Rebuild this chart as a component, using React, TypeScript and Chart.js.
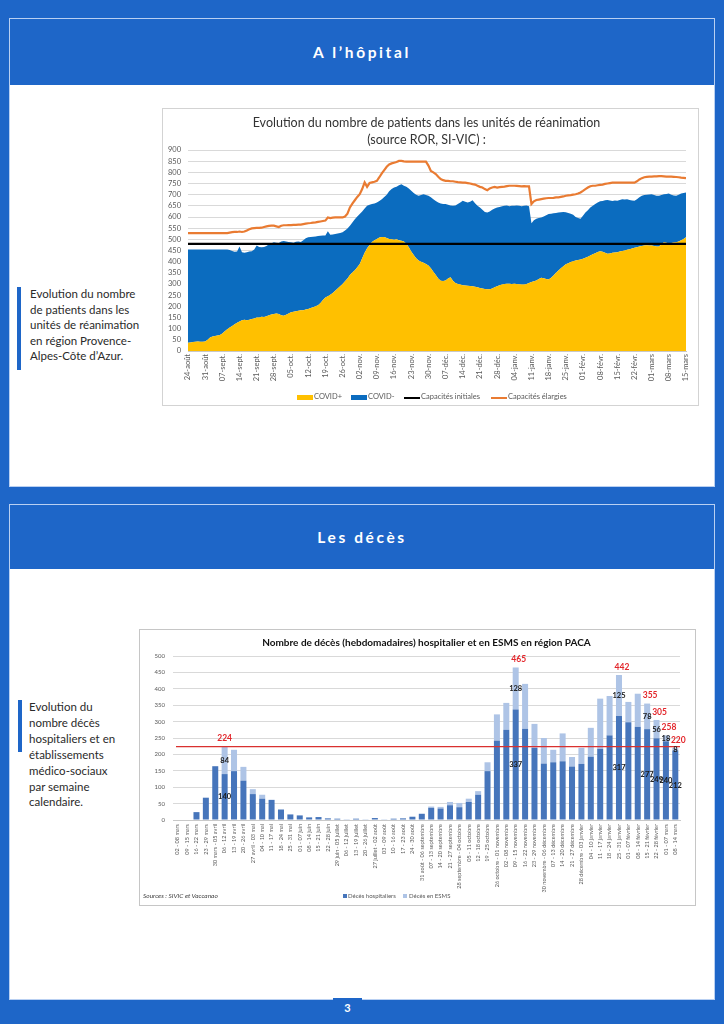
import React, { useEffect, useRef } from 'react';
import { Chart, registerables } from 'chart.js';

Chart.register(...registerables);
Chart.defaults.font.family = "Lato, 'DejaVu Sans', sans-serif";

// ---------- Chart 1 : patients en réanimation (valeurs journalières, 24 août -> 15 mars) ----------
const reaWeekLabels = [
  '24-août', '31-août', '07-sept.', '14-sept.', '21-sept.', '28-sept.', '05-oct.', '12-oct.', '19-oct.', '26-oct.',
  '02-nov.', '09-nov.', '16-nov.', '23-nov.', '30-nov.', '07-déc.', '14-déc.', '21-déc.', '28-déc.', '04-janv.',
  '11-janv.', '18-janv.', '25-janv.', '01-févr.', '08-févr.', '15-févr.', '22-févr.', '01-mars', '08-mars', '15-mars',
];

const covidPlus = [
  37, 38, 40, 41, 42, 41, 41,
  42, 50, 60, 65, 67, 69, 72,
  78, 88, 97, 105, 112, 120, 126,
  132, 138, 140, 138, 140, 143, 146,
  150, 150, 153, 152, 156, 160, 163,
  166, 168, 166, 160, 158, 162, 168,
  174, 176, 178, 180, 182, 183, 186,
  188, 192, 196, 200, 205, 215, 228,
  240, 245, 252, 260, 270, 280, 290,
  300, 312, 325, 340, 352, 362, 375,
  390, 415, 440, 460, 475, 488, 496,
  502, 508, 510, 510, 506, 502, 500,
  498, 500, 496, 494, 490, 480, 465,
  445, 430, 415, 405, 400, 395, 390,
  383, 370, 355, 340, 325, 315, 313,
  316, 325, 330, 315, 305, 300, 298,
  294, 293, 292, 291, 290, 288, 286,
  282, 280, 278, 277, 276, 280, 285,
  290, 294, 298, 300, 301, 301, 300,
  301, 300, 299, 298, 298, 300, 304,
  309, 312, 316, 322, 328, 326, 322,
  320, 328, 338, 350, 360, 370, 380,
  388, 393, 398, 402, 405, 408, 410,
  413, 418, 422, 428, 433, 438, 443,
  447, 444, 440, 435, 437, 440, 441,
  442, 445, 448, 450, 453, 456, 459,
  462, 465, 468, 470, 472, 473, 472,
  472, 470, 468, 468, 478, 487, 485,
  483, 484, 486, 487, 490, 496, 502,
  509,
];

const covidMinus = [
  418, 417, 414, 414, 413, 413, 414,
  413, 405, 395, 390, 387, 386, 383,
  377, 367, 358, 347, 336, 324, 320,
  336, 304, 300, 304, 305, 304, 309,
  322, 316, 312, 314, 314, 318, 319,
  321, 317, 318, 330, 334, 328, 320,
  313, 309, 311, 310, 306, 313, 319,
  321, 319, 316, 313, 310, 301, 289,
  277, 291, 268, 262, 254, 246, 238,
  232, 228, 223, 221, 223, 228, 227,
  223, 210, 198, 190, 180, 170, 164,
  163, 164, 170, 180, 194, 213, 225,
  234, 235, 246, 253, 250, 255, 263,
  272, 278, 285, 290, 298, 307, 308,
  312, 318, 325, 332, 340, 345, 345,
  342, 330, 322, 335, 347, 358, 367,
  379, 375, 373, 377, 385, 374, 364,
  361, 352, 344, 343, 349, 352, 353,
  353, 351, 350, 350, 351, 347, 350,
  349, 352, 351, 350, 352, 352, 344,
  263, 273, 276, 273, 270, 276, 286,
  293, 287, 279, 268, 260, 251, 242,
  233, 225, 216, 208, 195, 187, 182,
  193, 202, 208, 214, 217, 220, 222,
  223, 228, 235, 241, 237, 232, 233,
  231, 231, 232, 228, 227, 220, 215,
  211, 215, 220, 225, 226, 227, 229,
  230, 228, 227, 227, 220, 215, 218,
  222, 216, 210, 208, 210, 209, 206,
  201,
];

const capacitesElargies = [
  528, 528, 528, 528, 528, 528, 528,
  528, 528, 528, 528, 528, 528, 528,
  528, 528, 528, 530, 532, 533, 533,
  535, 533, 535, 540, 545, 549, 550,
  551, 551, 552, 555, 558, 560, 561,
  561, 558, 555, 561, 563, 563, 564,
  564, 565, 565, 566, 566, 568, 570,
  572, 573, 575, 576, 578, 580, 582,
  584, 598, 595, 597, 598, 598, 598,
  598, 602, 615, 643, 660, 675, 690,
  702, 725, 755, 735, 752, 755, 758,
  762, 778, 795, 810, 825, 835, 840,
  843, 846, 851, 851, 849, 848, 848,
  848, 848, 848, 848, 848, 848, 848,
  830, 806, 800, 792, 780, 770, 765,
  762, 762, 760, 760, 758, 756, 755,
  754, 754, 752, 750, 747, 745, 740,
  735, 732, 725, 720, 728, 732, 735,
  732, 734, 735, 736, 738, 740, 740,
  740, 739, 738, 737, 738, 737, 737,
  658, 670, 676, 678, 680, 682, 684,
  685, 685, 686, 688, 688, 690, 692,
  695, 697, 698, 700, 702, 705, 710,
  717, 725, 732, 738, 740, 740, 742,
  744, 745, 748, 750, 752, 754, 754,
  754, 754, 754, 754, 754, 754, 754,
  754, 760, 768, 774, 778, 780, 781,
  781, 782, 782, 783, 783, 782, 781,
  781, 781, 780, 779, 778, 776, 775,
  774,
];

const CAPACITES_INITIALES = 480;

// ---------- Chart 2 : décès hebdomadaires ----------
const decesWeeks = [
  '02 - 08 mars', '09 - 15 mars', '16 - 22 mars', '23 - 29 mars', '30 mars - 05 avril', '06 - 12 avril',
  '13 - 19 avril', '20 - 26 avril', '27 avril - 03 mai', '04 - 10 mai', '11 - 17 mai', '18 - 24 mai',
  '25 - 31 mai', '01 - 07 juin', '08 - 14 juin', '15 - 21 juin', '22 - 28 juin', '29 juin - 05 juillet',
  '06 - 12 juillet', '13 - 19 juillet', '20 - 26 juillet', '27 juillet - 02 août', '03 - 09 août', '10 - 16 août',
  '17 - 23 août', '24 - 30 août', '31 août - 06 septembre', '07 - 13 septembre', '14 - 20 septembre',
  '21 - 27 septembre', '28 septembre - 04 octobre', '05 - 11 octobre', '12 - 18 octobre', '19 - 25 octobre',
  '26 octobre - 01 novembre', '02 - 08 novembre', '09 - 15 novembre', '16 - 22 novembre', '23 - 29 novembre',
  '30 novembre - 06 décembre', '07 - 13 décembre', '14 - 20 décembre', '21 - 27 décembre',
  '28 décembre - 03 janvier', '04 - 10 janvier', '11 - 17 janvier', '18 - 24 janvier', '25 - 31 janvier',
  '01 - 07 février', '08 - 14 février', '15 - 21 février', '22 - 28 février', '01 - 07 mars', '08 - 14 mars',
];

const decesHospitaliers = [
  0, 0, 24, 68, 164, 140, 149, 120, 79, 65, 61, 32, 17, 14, 8, 9, 5, 4, 1, 4, 2, 6, 2, 4, 5, 10, 19,
  37, 35, 45, 39, 55, 77, 149, 242, 275, 337, 278, 220, 172, 176, 179, 163, 171, 193, 217, 258, 317,
  298, 284, 277, 249, 240, 212,
];

const decesEsms = [
  0, 0, 0, 0, 0, 84, 65, 42, 15, 12, 1, 0, 0, 0, 0, 0, 0, 0, 0, 0, 0, 0, 0, 0, 0, 0, 0,
  4, 5, 10, 13, 10, 11, 27, 80, 82, 128, 137, 73, 78, 38, 85, 29, 49, 88, 153, 120, 125,
  62, 101, 78, 56, 18, 8,
];

const SEUIL_DECES = 224;
const labeledWeeks = [5, 36, 47, 50, 51, 52, 53];

const PAGE_BLUE = '#1e66c8';
const TXT = '#595959';

function ReaChart() {
  const ref = useRef<HTMLCanvasElement>(null);
  useEffect(() => {
    const toXY = (arr: number[]) => arr.map((y, i) => ({ x: i, y }));
    const chart = new Chart(ref.current as HTMLCanvasElement, {
      type: 'line',
      data: {
        datasets: [
          {
            label: 'COVID+', data: toXY(covidPlus), backgroundColor: '#ffc000', borderColor: 'rgba(0,0,0,0)',
            borderWidth: 1, fill: 'origin', pointRadius: 0, stack: 'patients', order: 2, tension: 0,
          },
          {
            label: 'COVID-', data: toXY(covidMinus), backgroundColor: '#0b6cbf', borderColor: 'rgba(0,0,0,0)',
            borderWidth: 1, fill: '-1', pointRadius: 0, stack: 'patients', order: 3, tension: 0,
          },
          {
            label: 'Capacités initiales', data: toXY(covidPlus.map(() => CAPACITES_INITIALES)), borderColor: '#000000',
            borderWidth: 2.2, fill: false, pointRadius: 0, stack: 'init', order: 0,
          },
          {
            label: 'Capacités élargies', data: toXY(capacitesElargies), borderColor: '#e97b32',
            borderWidth: 2.2, fill: false, pointRadius: 0, stack: 'elargies', order: 1,
          },
        ],
      } as any,
      options: {
        animation: false,
        responsive: false,
        events: [],
        layout: { padding: { left: 0, right: 8, top: 0, bottom: 18 } },
        plugins: {
          legend: { display: false },
          tooltip: { enabled: false },
          title: {
            display: true,
            text: ['Evolution du nombre de patients dans les unités de réanimation', '(source ROR, SI-VIC) :'],
            color: '#333333',
            font: { size: 12.5, weight: 'normal', lineHeight: 1.4 },
            padding: { top: 5, bottom: 1 },
          },
        },
        scales: {
          x: {
            type: 'linear',
            min: 0,
            max: covidPlus.length - 1,
            grid: { display: false, drawTicks: false },
            border: { display: true, color: '#c8c8c8' },
            ticks: {
              stepSize: 7,
              autoSkip: false,
              maxRotation: 90,
              minRotation: 90,
              padding: 3,
              color: TXT,
              font: { size: 7.5 },
              callback: (v: any) => reaWeekLabels[Math.round(Number(v) / 7)] ?? '',
            },
            afterFit: (s: any) => { s.height = 36; },
          },
          y: {
            stacked: true,
            min: 0,
            max: 900,
            grid: { color: '#d9d9d9', drawTicks: false },
            border: { display: false },
            ticks: { stepSize: 50, autoSkip: false, padding: 7, color: TXT, font: { size: 7.5 } },
            afterFit: (s: any) => { s.width = 25; },
          },
        },
      } as any,
    });
    return () => chart.destroy();
  }, []);
  return <canvas ref={ref} width={535} height={296} style={{ position: 'absolute', left: 163, top: 109 }} />;
}

const decesOverlay = {
  id: 'decesOverlay',
  afterDatasetsDraw(chart: any) {
    const { ctx, chartArea, scales } = chart;
    const xs = scales.x;
    const ys = scales.y;
    ctx.save();
    // ligne rouge du pic de la première vague
    const yl = ys.getPixelForValue(SEUIL_DECES);
    ctx.strokeStyle = '#d9312f';
    ctx.lineWidth = 1.3;
    ctx.beginPath();
    ctx.moveTo(chartArea.left + 3, yl);
    ctx.lineTo(chartArea.right, yl);
    ctx.stroke();
    // étiquettes
    ctx.textAlign = 'center';
    ctx.textBaseline = 'middle';
    labeledWeeks.forEach((i) => {
      const h = decesHospitaliers[i];
      const e = decesEsms[i];
      const x = xs.getPixelForValue(i);
      ctx.fillStyle = '#1a1a1a';
      ctx.font = "bold 7.5px Lato, 'DejaVu Sans', sans-serif";
      ctx.fillText(String(h), x, ys.getPixelForValue(h / 2));
      if (e > 0) ctx.fillText(String(e), x, ys.getPixelForValue(h + e / 2));
      ctx.fillStyle = '#e3262b';
      ctx.font = "bold 8.5px Lato, 'DejaVu Sans', sans-serif";
      ctx.fillText(String(h + e), x + (i === 5 ? 0 : 3), ys.getPixelForValue(h + e) - 8);
    });
    ctx.restore();
  },
};

function DecesChart() {
  const ref = useRef<HTMLCanvasElement>(null);
  useEffect(() => {
    const chart = new Chart(ref.current as HTMLCanvasElement, {
      type: 'bar',
      data: {
        labels: decesWeeks,
        datasets: [
          { label: 'Décès hospitaliers', data: decesHospitaliers, backgroundColor: '#4675bb', stack: 'deces' },
          { label: 'Décès en ESMS', data: decesEsms, backgroundColor: '#aec4e6', stack: 'deces' },
        ],
      },
      options: {
        animation: false,
        responsive: false,
        events: [],
        datasets: { bar: { categoryPercentage: 1, barPercentage: 0.64 } },
        layout: { padding: { left: 0, right: 15, top: 0, bottom: 0 } },
        plugins: {
          legend: { display: false },
          tooltip: { enabled: false },
          title: {
            display: true,
            fullSize: false,
            text: 'Nombre de décès (hebdomadaires) hospitalier et en ESMS en région PACA',
            color: '#111111',
            font: { size: 10, weight: 'bold', lineHeight: 1.2 },
            padding: { top: 7, bottom: 7 },
          },
        },
        scales: {
          x: {
            stacked: true,
            grid: { display: false, drawTicks: false },
            border: { display: true, color: '#c8c8c8' },
            ticks: { autoSkip: false, maxRotation: 90, minRotation: 90, padding: 4, color: TXT, font: { size: 5.5 } },
            afterFit: (s: any) => { s.height = 85; },
          },
          y: {
            stacked: true,
            min: 0,
            max: 500,
            grid: { color: '#d9d9d9', drawTicks: false },
            border: { display: false },
            ticks: { stepSize: 50, autoSkip: false, padding: 8, color: TXT, font: { size: 6 } },
            afterFit: (s: any) => { s.width = 33; },
          },
        },
      } as any,
      plugins: [decesOverlay],
    });
    return () => chart.destroy();
  }, []);
  return <canvas ref={ref} width={555} height={275} style={{ position: 'absolute', left: 140, top: 630 }} />;
}

const abs = (left: number, top: number, extra: React.CSSProperties = {}): React.CSSProperties => ({
  position: 'absolute', left, top, ...extra,
});

export default function App() {
  const headerStyle: React.CSSProperties = {
    color: '#ffffff', fontFamily: "Lato, 'Open Sans', sans-serif", fontWeight: 700, fontSize: 15.5,
    letterSpacing: 2.6, textAlign: 'center', width: '100%',
  };
  const sideText: React.CSSProperties = {
    fontFamily: "Lato, 'Open Sans', sans-serif", fontSize: 11.5, color: '#2a2a2a', lineHeight: '15.6px',
  };
  const legendText: React.CSSProperties = {
    fontFamily: "Lato, sans-serif", fontSize: 7.5, color: TXT, lineHeight: '10px', whiteSpace: 'nowrap',
  };
  return (
    <div style={{ position: 'absolute', left: 0, top: 0, width: 724, height: 1024, background: PAGE_BLUE, overflow: 'hidden' }}>
      {/* Section 1 */}
      <div style={abs(9, 18, { width: 704, height: 467, border: '1px solid #b9d0f2', background: '#ffffff' })}>
        <div style={{ height: 66, background: PAGE_BLUE, display: 'flex', alignItems: 'center' }}>
          <div style={headerStyle}>A l’hôpital</div>
        </div>
      </div>
      <div style={abs(17, 287, { width: 4, height: 83, background: PAGE_BLUE })} />
      <div style={abs(30, 286, sideText)}>
        Evolution du nombre<br />de patients dans les<br />unités de réanimation<br />en région Provence-<br />Alpes-Côte d’Azur.
      </div>
      <div style={abs(162, 108, { width: 535, height: 296, border: '1px solid #d3d3d3', background: '#fff' })} />
      <ReaChart />
      {/* légende chart 1 */}
      <div style={abs(297, 395, { width: 16, height: 5, background: '#ffc000' })} />
      <div style={abs(314, 392, legendText)}>COVID+</div>
      <div style={abs(351, 395, { width: 16, height: 5, background: '#0b6cbf' })} />
      <div style={abs(368, 392, legendText)}>COVID-</div>
      <div style={abs(404, 396.5, { width: 16, height: 2, background: '#000' })} />
      <div style={abs(421, 392, legendText)}>Capacités initiales</div>
      <div style={abs(491, 396.5, { width: 16, height: 2, background: '#e97b32' })} />
      <div style={abs(508, 392, legendText)}>Capacités élargies</div>

      {/* Section 2 */}
      <div style={abs(9, 504, { width: 704, height: 494, border: '1px solid #b9d0f2', background: '#ffffff' })}>
        <div style={{ height: 64, background: PAGE_BLUE, display: 'flex', alignItems: 'center' }}>
          <div style={headerStyle}>Les décès</div>
        </div>
      </div>
      <div style={abs(18, 700, { width: 4, height: 52, background: PAGE_BLUE })} />
      <div style={abs(29, 699, { ...sideText, lineHeight: '15.9px' })}>
        Evolution du<br />nombre décès<br />hospitaliers et en<br />établissements<br />médico-sociaux<br />par semaine<br />calendaire.
      </div>
      <div style={abs(139, 629, { width: 555, height: 275, border: '1px solid #c6c6c6', background: '#fff' })} />
      <DecesChart />
      <div style={abs(143, 891, { ...legendText, fontSize: 6.5, fontStyle: 'italic', color: '#404040' })}>Sources : SIVIC et Vaccanao</div>
      <div style={abs(343, 894, { width: 3.5, height: 3.5, background: '#4675bb' })} />
      <div style={abs(348, 891, { ...legendText, fontSize: 6 })}>Décès hospitaliers</div>
      <div style={abs(403, 894, { width: 3.5, height: 3.5, background: '#aec4e6' })} />
      <div style={abs(409, 891, { ...legendText, fontSize: 6 })}>Décès en ESMS</div>

      {/* numéro de page */}
      <div style={abs(333, 998, {
        width: 29, height: 19, background: PAGE_BLUE, color: '#fff', fontFamily: 'Lato, sans-serif',
        fontWeight: 700, fontSize: 11, display: 'flex', alignItems: 'center', justifyContent: 'center',
      })}>3</div>
    </div>
  );
}
